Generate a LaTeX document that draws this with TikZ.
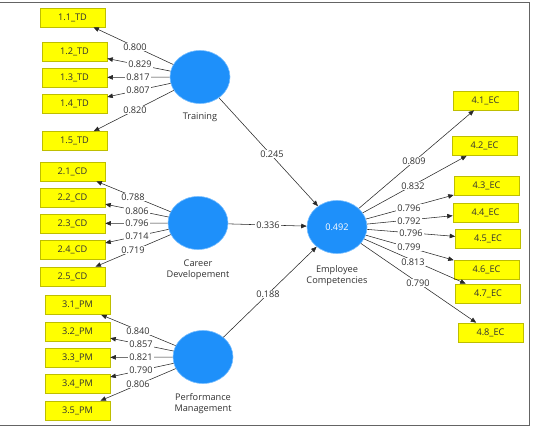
\documentclass[tikz,border=0pt]{standalone}
\usepackage{fontspec}
\setmainfont{Open Sans}
\usetikzlibrary{arrows.meta,shapes.geometric}
\definecolor{lvblue}{RGB}{30,144,250}
\definecolor{lvedge}{RGB}{120,190,255}
\definecolor{indyel}{RGB}{255,255,0}
\definecolor{indedge}{RGB}{190,190,0}
\definecolor{txtgray}{RGB}{50,50,50}
\definecolor{framegray}{RGB}{100,100,100}
\begin{document}
\begin{tikzpicture}[x=1pt,y=-1pt,
  ind/.style={rectangle,draw=indedge,fill=indyel,line width=0.6pt,minimum width=65pt,minimum height=19pt,inner sep=0pt,font=\fontsize{9.2}{11}\selectfont,text=txtgray},
  lv/.style={ellipse,draw=lvedge,fill=lvblue,line width=0.6pt,minimum width=60pt,minimum height=53pt,inner sep=0pt,font=\fontsize{9.2}{11}\selectfont,text=white},
  lvname/.style={align=center,font=\fontsize{9.2}{11.5}\selectfont,text=txtgray,inner sep=0pt},
  wt/.style={fill=white,inner sep=0.8pt,font=\fontsize{9.2}{11}\selectfont,text=txtgray},
  arr/.style={draw=txtgray!80!black,line width=0.55pt,-{Triangle[length=5.5pt,width=4.5pt]}}]
\useasboundingbox (0,0) rectangle (534,438);
\draw[framegray,line width=0.8pt] (0,2) -- (529,2) -- (529,425) -- (0,425);
% latent variables
\node[lv] (T) at (200,77) {};
\node[lv] (C) at (198,223) {};
\node[lv] (P) at (203,357) {};
\node[lv] (E) at (337,227) {0.492};
\node[lvname] (Tn) at (200,117) {Training};
\node[lvname] (Cn) at (198,270) {Career\\Developement};
\node[lvname] (En) at (337,275.5) {Employee\\Competencies};
\node[lvname] (Pn) at (203,403.5) {Performance\\Management};
% indicators
\node[ind] (t1) at (72.5,17.5) {1.1\_TD};
\node[ind] (t2) at (74.5,52) {1.2\_TD};
\node[ind] (t3) at (74.5,77.5) {1.3\_TD};
\node[ind] (t4) at (74.5,104) {1.4\_TD};
\node[ind] (t5) at (74.5,141) {1.5\_TD};
\node[ind] (c1) at (72.5,171.5) {2.1\_CD};
\node[ind] (c2) at (72.5,197.5) {2.2\_CD};
\node[ind] (c3) at (72.5,223.5) {2.3\_CD};
\node[ind] (c4) at (72.5,250) {2.4\_CD};
\node[ind] (c5) at (72.5,276.5) {2.5\_CD};
\node[ind] (p1) at (77.5,305) {3.1\_PM};
\node[ind] (p2) at (77.5,331.5) {3.2\_PM};
\node[ind] (p3) at (77.5,357.5) {3.3\_PM};
\node[ind] (p4) at (77.5,384) {3.4\_PM};
\node[ind] (p5) at (77.5,410.5) {3.5\_PM};
\node[ind] (e1) at (485.5,100.5) {4.1\_EC};
\node[ind] (e2) at (484.5,146) {4.2\_EC};
\node[ind] (e3) at (486.5,186) {4.3\_EC};
\node[ind] (e4) at (485.5,212.5) {4.4\_EC};
\node[ind] (e5) at (488,239) {4.5\_EC};
\node[ind] (e6) at (486.5,269.5) {4.6\_EC};
\node[ind] (e7) at (488,293.5) {4.7\_EC};
\node[ind] (e8) at (490.5,332.5) {4.8\_EC};
% connectors
\foreach \i in {1,...,5} {
  \draw[arr] (T) -- (t\i);
  \draw[arr] (C) -- (c\i);
  \draw[arr] (P) -- (p\i);
}
\foreach \i in {1,...,8} { \draw[arr] (E) -- (e\i); }
\draw[arr] (T) -- (E);
\draw[arr] (C) -- (E);
\draw[arr] (P) -- (E);
% weights
\node[wt] (w11) at (135,47) {0.800};
\node[wt] (w12) at (140,64) {0.829};
\node[wt] (w13) at (138,77) {0.817};
\node[wt] (w14) at (138,90) {0.807};
\node[wt] (w15) at (135,110) {0.820};
\node[wt] (w21) at (133,197) {0.788};
\node[wt] (w22) at (137,211) {0.806};
\node[wt] (w23) at (137,223) {0.796};
\node[wt] (w24) at (137,236) {0.714};
\node[wt] (w25) at (133,250) {0.719};
\node[wt] (w31) at (138,331) {0.840};
\node[wt] (w32) at (141,344) {0.857};
\node[wt] (w33) at (141,357) {0.821};
\node[wt] (w34) at (141,370) {0.790};
\node[wt] (w35) at (138,384) {0.806};
\node[wt] (w41) at (414,161) {0.809};
\node[wt] (w42) at (413,186) {0.832};
\node[wt] (w43) at (409,208) {0.796};
\node[wt] (w44) at (409,221) {0.792};
\node[wt] (w45) at (411,233) {0.796};
\node[wt] (w46) at (409,247) {0.799};
\node[wt] (w47) at (413,262) {0.813};
\node[wt] (w48) at (418,283) {0.790};
\node[wt] (pt) at (272,154) {0.245};
\node[wt] (pc) at (268,225) {0.336};
\node[wt] (pp) at (268,294) {0.188};
\end{tikzpicture}
\end{document}
